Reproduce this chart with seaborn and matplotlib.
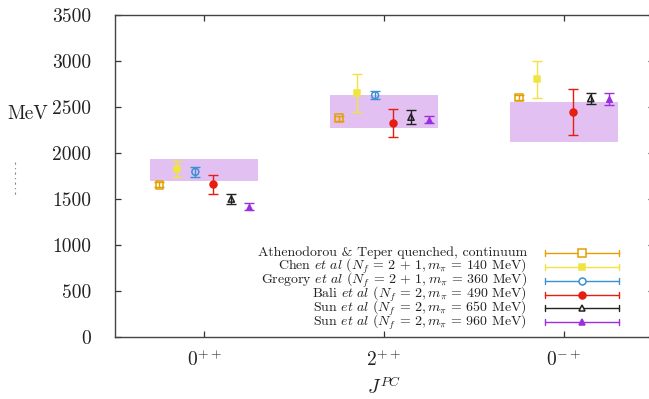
import numpy as np
import pandas as pd
import matplotlib
matplotlib.use("Agg")
import matplotlib.pyplot as plt
import seaborn as sns
from matplotlib.lines import Line2D

# ---------------- data ----------------
states = [1, 2, 3]
state_labels = [r"$0^{++}$", r"$2^{++}$", r"$0^{-+}$"]
yticks = [0, 500, 1000, 1500, 2000, 2500, 3000, 3500]

band_lo = [1700, 2270, 2115]
band_hi = [1940, 2630, 2555]

series_names = [
    r"Athenodorou & Teper quenched, continuum",
    r"Chen $\mathit{et\ al}$ ($N_f\,=\,2\,+\,1, m_\pi\,=\,140$ MeV)",
    r"Gregory $\mathit{et\ al}$ ($N_f\,=\,2\,+\,1, m_\pi\,=\,360$ MeV)",
    r"Bali $\mathit{et\ al}$ ($N_f\,=\,2, m_\pi\,=\,490$ MeV)",
    r"Sun $\mathit{et\ al}$ ($N_f\,=\,2, m_\pi\,=\,650$ MeV)",
    r"Sun $\mathit{et\ al}$ ($N_f\,=\,2, m_\pi\,=\,960$ MeV)",
]
at_vals = [1655, 2377, 2603]
at_errs = [26, 30, 28]
chen_vals = [1823, 2652, 2802]
chen_errs = [87, 203, 201]
gregory_vals = [1795, 2627, np.nan]
gregory_errs = [57, 44, np.nan]
bali_vals = [1660, 2328, 2445]
bali_errs = [105, 152, 248]
sun650_vals = [1500, 2390, 2592]
sun650_errs = [54, 72, 57]
sun960_vals = [1418, 2364, 2583]
sun960_errs = [35, 41, 65]

all_vals = [at_vals, chen_vals, gregory_vals, bali_vals, sun650_vals, sun960_vals]
all_errs = [at_errs, chen_errs, gregory_errs, bali_errs, sun650_errs, sun960_errs]

# ---------------- style ----------------
colors = ["#e69f00", "#f0e442", "#3b8fd3", "#e51e10", "#222222", "#9a2ee0"]
markers = ["s", "s", "o", "o", "^", "^"]
filled = [False, True, False, True, False, True]
msizes = [5.5, 5.0, 5.0, 5.0, 4.5, 4.0]
offsets = [-0.25, -0.15, -0.05, 0.05, 0.15, 0.25]
band_color = "#e2c0f1"
text_color = "#222222"

sns.set_theme(style="ticks")
plt.rcParams["font.family"] = ["serif"]
plt.rcParams["font.serif"] = ["cmr10", "DejaVu Serif"]
plt.rcParams["mathtext.fontset"] = "cm"
plt.rcParams["axes.formatter.use_mathtext"] = True
plt.rcParams["axes.unicode_minus"] = False

fig = plt.figure(figsize=(6.49, 3.99), dpi=100)
W, H = 649, 399
ax_left, ax_right, ax_top, ax_bot = 114.5, 653.6, 15, 337
ax = fig.add_axes([ax_left / W, 1 - ax_bot / H, (ax_right - ax_left) / W, (ax_bot - ax_top) / H])

# bands
band_df = pd.DataFrame({"x": states, "lo": band_lo, "hi": band_hi})
ax.bar(band_df["x"], band_df["hi"] - band_df["lo"], bottom=band_df["lo"], width=0.6,
       color=band_color, edgecolor="none", zorder=1)

# series
for i, (vals, errs) in enumerate(zip(all_vals, all_errs)):
    df = pd.DataFrame({"x": np.array(states) + offsets[i], "y": vals, "e": errs}).dropna()
    ax.errorbar(df["x"], df["y"], yerr=df["e"], fmt="none", ecolor=colors[i],
                elinewidth=1.0, capsize=3.5, capthick=1.0, zorder=3)
    sns.scatterplot(data=df, x="x", y="y", ax=ax, marker=markers[i],
                    s=msizes[i] ** 2,
                    facecolor=colors[i] if filled[i] else "none",
                    edgecolor=colors[i], linewidth=1.1, zorder=4, legend=False)

ax.set_xlim(0.5, 3.5)
ax.set_ylim(0, 3500)
ax.set_xticks(states)
ax.set_xticklabels(state_labels, fontsize=14, color=text_color)
ax.set_yticks(yticks)
ax.set_yticklabels([str(v) for v in yticks], fontsize=14, color=text_color)
ax.tick_params(direction="in", top=True, right=True, length=4, width=0.9,
               color="#333333")
ax.tick_params(axis="y", pad=17)
ax.tick_params(axis="x", pad=9)
for s in ax.spines.values():
    s.set_color("#444444")
    s.set_linewidth(1.0)
    s.set_visible(True)

ax.set_xlabel(r"$J^{PC}$", fontsize=14, color=text_color, labelpad=4)
ax.set_ylabel("MeV", fontsize=14, rotation=0, color=text_color)
ax.yaxis.set_label_coords((27.5 - ax_left) / (ax_right - ax_left), (ax_bot - 123) / (ax_bot - ax_top))

# legend, laid out row by row in axes coordinates (gnuplot-style key)
aw, ah = ax_right - ax_left, ax_bot - ax_top
def ax_xy(px, py):
    return (px - ax_left) / aw, (ax_bot - py) / ah

row0, row_step = 252.8, 13.9
text_right, h0, h1 = 527, 545, 619
for i, name in enumerate(series_names):
    py = row0 + i * row_step
    tx, ty = ax_xy(text_right, py + 3.0)
    ax.text(tx, ty, name, transform=ax.transAxes, ha="right", va="baseline",
            fontsize=10, color=text_color)
    xa, ya = ax_xy(h0, py)
    xb, _ = ax_xy(h1, py)
    _, yc0 = ax_xy(h0, py - 3)
    _, yc1 = ax_xy(h0, py + 3)
    kw = dict(transform=ax.transAxes, color=colors[i], lw=1.0, clip_on=False)
    ax.add_line(Line2D([xa, xb], [ya, ya], **kw))
    ax.add_line(Line2D([xa, xa], [yc0, yc1], **kw))
    ax.add_line(Line2D([xb, xb], [yc0, yc1], **kw))
    ax.add_line(Line2D([(xa + xb) / 2], [ya], transform=ax.transAxes, marker=markers[i],
                       ms=msizes[i], mec=colors[i], mfc=colors[i] if filled[i] else "white",
                       mew=1.1, ls="none", clip_on=False, zorder=5))

# small dashed stroke at the left edge
fig.add_artist(Line2D([15 / W, 15 / W], [1 - 162 / H, 1 - 197 / H], transform=fig.transFigure,
                      color="#888888", lw=0.8, ls=(0, (2, 3, 1, 3))))

fig.savefig("out.png", dpi=100)
